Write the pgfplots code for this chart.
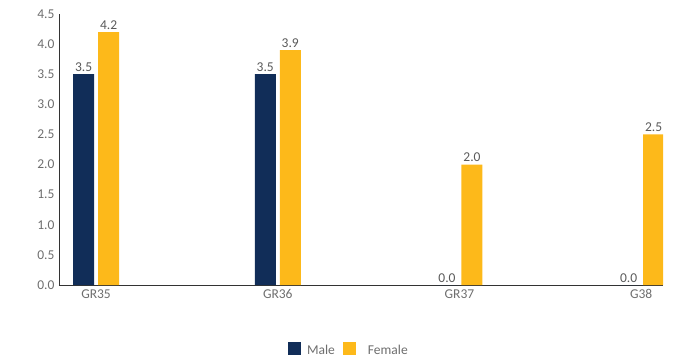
\documentclass[border=0pt]{standalone}
\usepackage{pgfplots}
\pgfplotsset{compat=1.18}
\usepackage{fontspec}
\setmainfont{Carlito}
\definecolor{male}{HTML}{112D58}
\definecolor{female}{HTML}{FDB91A}
\definecolor{txt}{HTML}{6E6E6E}
\begin{document}
\begin{tikzpicture}
\useasboundingbox (-59pt,-77pt) rectangle (619pt,285pt);
\begin{axis}[
  at={(0pt,0pt)}, anchor=south west,
  scale only axis, width=604pt, height=271pt,
  xmin=-0.204, xmax=3.12, ymin=0, ymax=4.5,
  ytick={0,0.5,...,4.5},
  xtick={0,1,2,3}, xticklabels={GR35,GR36,GR37,G38},
  yticklabel style={/pgf/number format/fixed,/pgf/number format/fixed zerofill,/pgf/number format/precision=1, xshift=-1pt},
  /pgf/number format/assume math mode=true,
  axis lines*=left,
  axis line style={draw=black!80, line width=0.8pt, -},
  major tick length=0pt,
  tick label style={font=\fontsize{13.5}{15}\selectfont, text=txt},
  xticklabel style={yshift=-1pt},
  ybar, bar width=21pt,
  nodes near coords,
  nodes near coords style={font=\fontsize{13.5}{15}\selectfont, text=black!65, /pgf/number format/fixed,/pgf/number format/fixed zerofill,/pgf/number format/precision=1, /pgf/number format/assume math mode=true, yshift=-1pt},
  legend style={at={(0.48,-0.24)}, anchor=center, draw=none, legend columns=2, font=\fontsize{13.5}{15}\selectfont, text=txt, /tikz/every even column/.append style={column sep=6pt}, /tikz/every odd column/.append style={column sep=4pt}},
  legend image code/.code={\fill[#1] (0pt,-5pt) rectangle (13pt,8pt);},
]
\addplot[fill=male, draw=none, bar shift=-12.5pt] coordinates {(0,3.5) (1,3.5) (2,0.0) (3,0.0)};
\addplot[fill=female, draw=none, bar shift=12.5pt] coordinates {(0,4.2) (1,3.9) (2,2.0) (3,2.5)};
\legend{Male,\hspace{6pt}Female}
\end{axis}
\end{tikzpicture}
\end{document}
